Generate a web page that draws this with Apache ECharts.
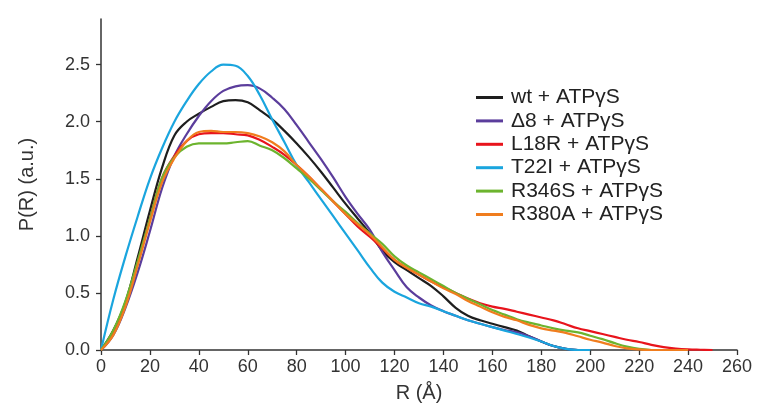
<!DOCTYPE html>
<html>
<head>
<meta charset="utf-8">
<script src="https://cdn.jsdelivr.net/npm/echarts@6/dist/echarts.min.js"></script>
<style>
html,body{margin:0;padding:0;background:#fff;}
#c{width:764px;height:412px;}
</style>
</head>
<body>
<div id="c"></div>
<script>
// R grid (Å), step 5
const R = [0,5,10,15,20,25,30,35,40,45,50,55,60,65,70,75,80,85,90,95,100,105,110,115,120,125,130,135,140,145,150,155,160,165,170,175,180,185,190,195,200,205,210,215,220,225,230,235,240,245,250];

const seriesNames = ['wt + ATPγS','Δ8 + ATPγS','L18R + ATPγS','T22I + ATPγS','R346S + ATPγS','R380A + ATPγS'];

const wt    = [0,0.17,0.42,0.81,1.22,1.60,1.88,2.00,2.07,2.13,2.18,2.19,2.17,2.10,2.02,1.92,1.81,1.69,1.56,1.42,1.28,1.15,1.02,0.87,0.77,0.70,0.63,0.56,0.47,0.37,0.30,0.26,0.23,0.20,0.17,0.12,0.075,0.035,0.01,0];
const d8    = [0,0.13,0.37,0.68,1.04,1.42,1.70,1.89,2.05,2.18,2.27,2.31,2.32,2.29,2.21,2.11,1.97,1.82,1.67,1.51,1.34,1.19,1.05,0.86,0.70,0.55,0.46,0.39,0.34,0.30,0.26,0.23,0.20,0.175,0.155,0.12,0.075,0.035,0.01,0];
const l18r  = [0,0.15,0.40,0.76,1.15,1.51,1.70,1.83,1.89,1.90,1.90,1.89,1.88,1.84,1.78,1.71,1.62,1.52,1.41,1.30,1.19,1.08,0.99,0.89,0.79,0.72,0.66,0.60,0.55,0.50,0.45,0.41,0.38,0.36,0.335,0.31,0.285,0.26,0.225,0.19,0.165,0.14,0.115,0.09,0.07,0.045,0.025,0.012,0.005,0.002,0];
const t22i  = [0,0.44,0.82,1.17,1.50,1.77,2.00,2.18,2.33,2.44,2.50,2.49,2.40,2.23,2.02,1.82,1.62,1.47,1.32,1.17,1.02,0.87,0.72,0.59,0.51,0.46,0.41,0.38,0.34,0.30,0.26,0.23,0.20,0.17,0.14,0.11,0.075,0.035,0.01,0,0];
const r346s = [0,0.17,0.43,0.78,1.15,1.51,1.69,1.78,1.81,1.81,1.81,1.82,1.83,1.79,1.75,1.68,1.59,1.50,1.40,1.30,1.21,1.11,1.02,0.93,0.82,0.74,0.68,0.62,0.56,0.50,0.45,0.40,0.35,0.31,0.27,0.24,0.215,0.19,0.17,0.155,0.125,0.095,0.06,0.03,0.01,0];
const r380a = [0,0.13,0.38,0.74,1.12,1.47,1.68,1.83,1.91,1.92,1.91,1.91,1.90,1.87,1.82,1.74,1.62,1.52,1.41,1.30,1.19,1.10,1.01,0.90,0.79,0.72,0.66,0.60,0.54,0.49,0.43,0.38,0.33,0.29,0.26,0.22,0.19,0.17,0.15,0.12,0.09,0.065,0.035,0.015,0.005,0,0,0,0];

const seriesValues = [wt, d8, l18r, t22i, r346s, r380a];
const colors = ['#1e1e1e','#5b3d9c','#e8141c','#1aa5de','#6cb42e','#f07d1e'];

const xTicks = [0,20,40,60,80,100,120,140,160,180,200,220,240,260];
const yTicks = [0,0.5,1.0,1.5,2.0,2.5];

const FONT = '"Liberation Sans", Arial, sans-serif';

const chart = echarts.init(document.getElementById('c'), null, {renderer:'canvas'});

const series = seriesNames.map((name, i) => ({
  name: name,
  type: 'line',
  smooth: 0.4,
  showSymbol: false,
  symbol: 'none',
  lineStyle: {color: colors[i], width: 2.2},
  itemStyle: {color: colors[i]},
  data: seriesValues[i].map((v, k) => [R[k], v])
}));

chart.setOption({
  animation: false,
  backgroundColor: '#ffffff',
  textStyle: {fontFamily: FONT},
  grid: {left: 101, right: 27, top: 19, bottom: 62, containLabel: false},
  legend: {
    orient: 'vertical',
    left: 471,
    top: 82,
    padding: 5,
    itemWidth: 27,
    itemHeight: 3,
    itemGap: 2.4,
    icon: 'rect',
    data: seriesNames,
    textStyle: {fontFamily: FONT, fontSize: 21, color: '#222', lineHeight: 21, padding: [0,0,0,3]}
  },
  xAxis: {
    type: 'value',
    min: 0,
    max: 260,
    interval: 20,
    name: 'R (Å)',
    nameLocation: 'middle',
    nameGap: 33,
    nameTextStyle: {fontFamily: FONT, fontSize: 20, color: '#333'},
    axisLine: {show: true, onZero: false, lineStyle: {color: '#333', width: 1.5}},
    axisTick: {show: true, inside: false, length: 5, lineStyle: {color: '#333', width: 1.3}, customValues: xTicks},
    axisLabel: {fontFamily: FONT, fontSize: 18, color: '#333', margin: 8, customValues: xTicks},
    splitLine: {show: false}
  },
  yAxis: {
    type: 'value',
    min: 0,
    max: 2.9,
    name: 'P(R) (a.u.)',
    nameLocation: 'middle',
    nameGap: 64,
    nameRotate: 90,
    nameTextStyle: {fontFamily: FONT, fontSize: 20, color: '#333'},
    axisLine: {show: true, onZero: false, lineStyle: {color: '#333', width: 1.5}},
    axisTick: {show: true, inside: false, length: 5, lineStyle: {color: '#333', width: 1.3}, customValues: yTicks},
    axisLabel: {fontFamily: FONT, fontSize: 18, color: '#333', margin: 11, customValues: yTicks,
      formatter: v => v.toFixed(1)},
    splitLine: {show: false}
  },
  series: series
});
</script>
</body>
</html>
